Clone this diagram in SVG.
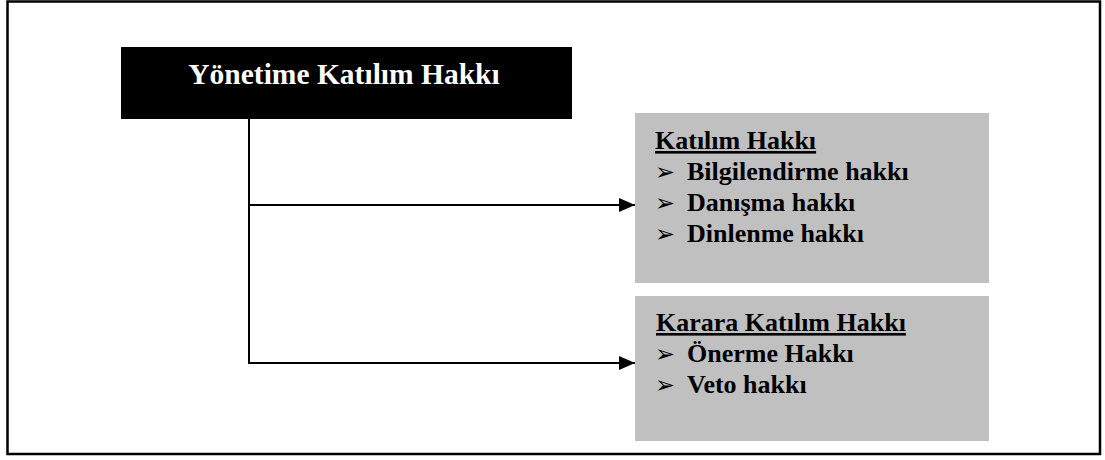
<svg xmlns="http://www.w3.org/2000/svg" width="1105" height="460" viewBox="0 0 1105 460">
  <defs>
    <marker id="arrow" markerWidth="16" markerHeight="14" refX="16" refY="7" orient="auto" markerUnits="userSpaceOnUse">
      <path d="M0,0 L16,7 L0,14 Z" fill="#000"/>
    </marker>
    <style>
      .frame { fill: #fff; stroke: #000; stroke-width: 2.5; }
      .head { fill: #000; }
      .head-text { font-family: "Liberation Serif", "Times New Roman", serif; font-weight: bold; font-size: 29.5px; fill: #fff; }
      .panel { fill: #c0c0c0; }
      .item { font-family: "Liberation Serif", "Times New Roman", serif; font-weight: bold; font-size: 26px; fill: #000; }
      .title { text-decoration: underline; }
      .bullet { font-family: "DejaVu Sans", sans-serif; font-size: 24px; fill: #000; }
      .link { fill: none; stroke: #000; stroke-width: 2; }
    </style>
  </defs>

  <!-- page frame -->
  <rect class="frame" x="7.5" y="1.5" width="1092.5" height="452.5"/>

  <!-- root node -->
  <g id="yonetime-katilim">
    <rect class="head" x="121" y="47" width="451" height="72"/>
    <text class="head-text" x="344" y="84" text-anchor="middle">Yönetime Katılım Hakkı</text>
  </g>

  <!-- participation rights -->
  <g id="katilim-hakki">
    <rect class="panel" x="635" y="113" width="354" height="170"/>
    <text class="item title" x="655" y="149">Katılım Hakkı</text>
    <text class="bullet" x="655" y="180">➢</text>
    <text class="item" x="687" y="180">Bilgilendirme hakkı</text>
    <text class="bullet" x="655" y="211">➢</text>
    <text class="item" x="687" y="211">Danışma hakkı</text>
    <text class="bullet" x="655" y="242">➢</text>
    <text class="item" x="687" y="242">Dinlenme hakkı</text>
  </g>

  <!-- decision participation rights -->
  <g id="karara-katilim-hakki">
    <rect class="panel" x="635" y="296" width="354" height="145"/>
    <text class="item title" x="656" y="331">Karara Katılım Hakkı</text>
    <text class="bullet" x="655" y="362">➢</text>
    <text class="item" x="687" y="362">Önerme Hakkı</text>
    <text class="bullet" x="655" y="393">➢</text>
    <text class="item" x="687" y="393">Veto hakkı</text>
  </g>

  <!-- connectors -->
  <g id="connectors">
    <path class="link" d="M249,119 V363"/>
    <path class="link" d="M248,205 H635" marker-end="url(#arrow)"/>
    <path class="link" d="M248,363 H635" marker-end="url(#arrow)"/>
  </g>
</svg>
